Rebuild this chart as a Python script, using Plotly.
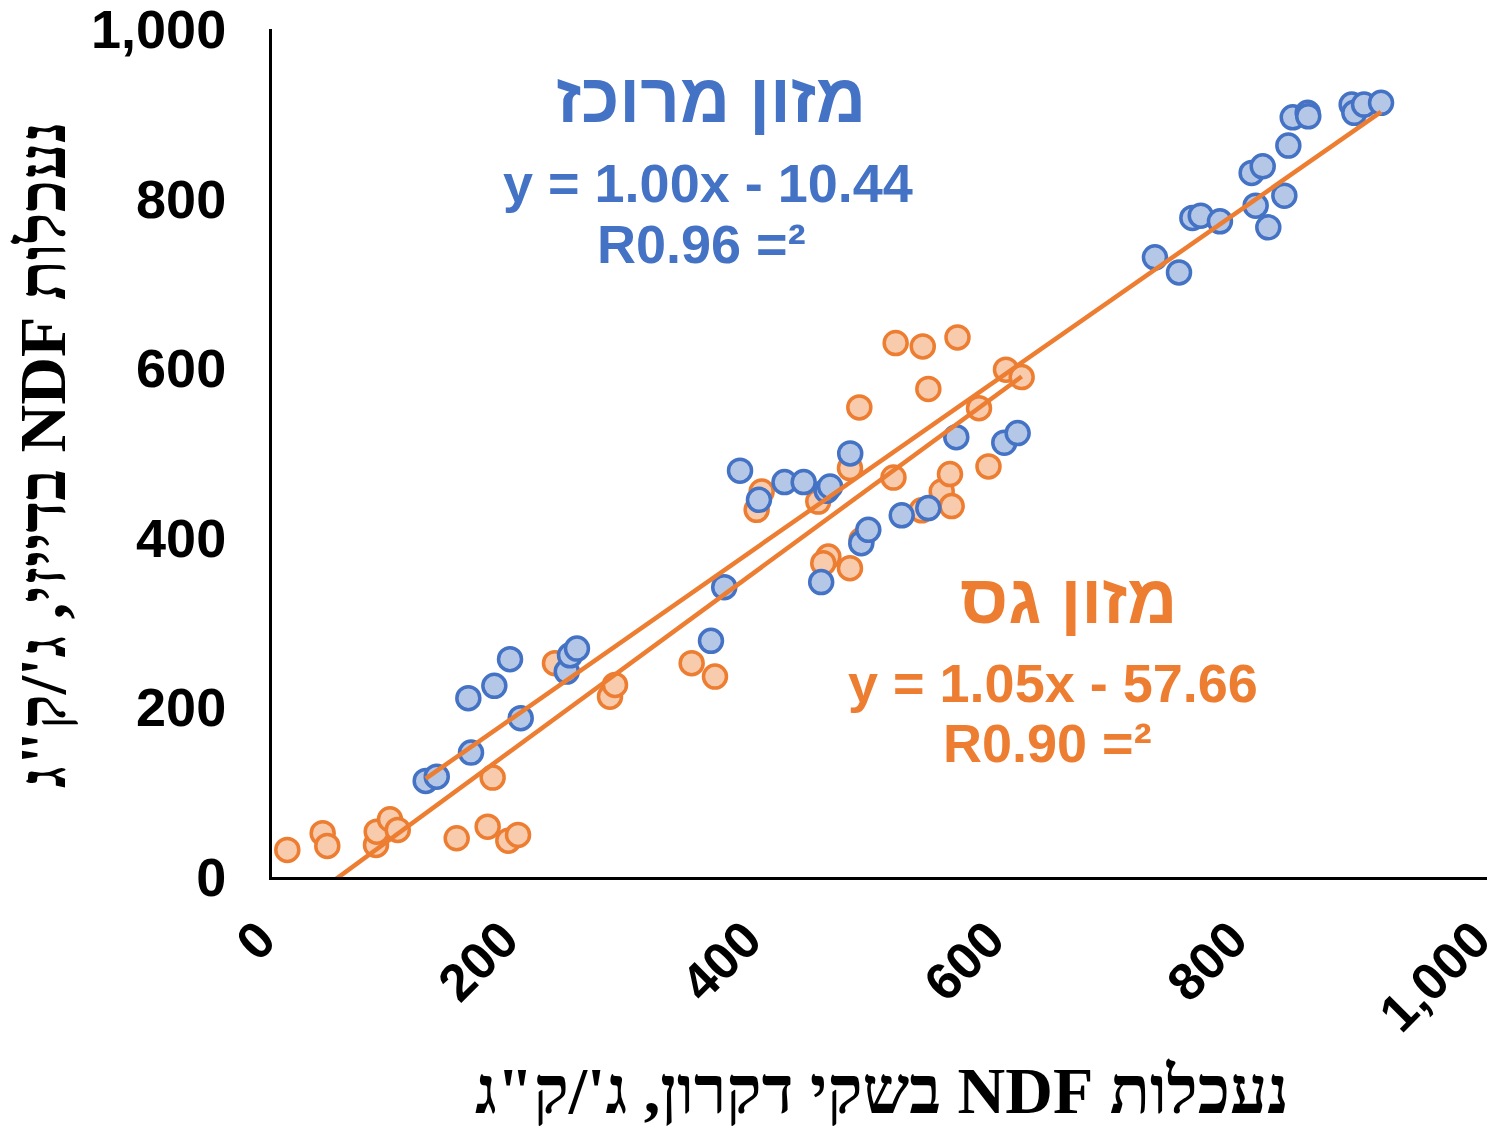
import plotly.graph_objects as go

# NDF digestibility: dacron bag (x) vs. Daisy incubator (y), g/kg
concentrate_x = [126.5, 135.6, 161.6, 163.8, 183.0, 195.9, 204.7, 242.6, 245.3, 251.0,
                 361.3, 372.2, 385.2, 400.8, 421.8, 437.6, 452.0, 456.5, 459.3, 475.9,
                 485.0, 490.8, 518.3, 540.2, 563.2, 602.7, 613.7, 726.7, 746.5, 757.5,
                 764.4, 780.2, 806.3, 809.6, 815.4, 820.0, 833.2, 836.5, 840.1, 852.4,
                 852.9, 888.6, 890.8, 898.8, 912.8]
concentrate_y = [113.3, 118.3, 210.9, 146.7, 225.4, 256.9, 187.3, 242.2, 261.4, 269.4,
                 278.5, 341.8, 479.1, 444.8, 465.7, 465.7, 347.8, 455.5, 460.5, 499.5,
                 393.7, 409.4, 426.5, 435.0, 518.6, 512.1, 523.5, 730.7, 713.0, 777.2,
                 779.9, 773.2, 830.3, 791.7, 838.1, 766.1, 803.5, 862.5, 895.9, 901.1,
                 897.1, 910.9, 901.1, 910.9, 912.9]

roughage_x = [12.6, 41.7, 45.5, 85.6, 86.2, 97.1, 103.5, 152.0, 177.5, 181.6,
              194.5, 202.5, 232.9, 278.2, 282.3, 345.4, 364.6, 398.9, 403.0, 449.6,
              457.9, 453.7, 475.7, 475.7, 483.4, 485.3, 513.3, 511.5, 534.7, 535.6,
              540.2, 551.2, 558.0, 559.4, 564.2, 581.9, 589.7, 604.1, 617.0]
roughage_y = [31.9, 51.6, 36.6, 37.8, 53.5, 68.1, 55.5, 45.7, 59.4, 117.2,
              42.8, 49.6, 252.2, 212.7, 226.5, 252.2, 236.3, 433.0, 454.6, 442.8,
              377.9, 370.1, 364.2, 482.2, 553.8, 397.6, 629.7, 471.1, 432.4, 625.7,
              575.5, 454.6, 475.2, 437.4, 636.3, 552.8, 484.1, 598.2, 589.6]

# linear fits shown on the chart
conc_slope, conc_intercept, conc_r2 = 1.00, -10.44, 0.96
rough_slope, rough_intercept, rough_r2 = 1.05, -57.66, 0.90

concentrate_name = "מזון מרוכז"
roughage_name = "מזון גס"
x_title = "נעכלות NDF בשקי דקרון, ג'/ק\"ג"
y_title = "נעכלות NDF בדייזי, ג'/ק\"ג"
tick_values = [0, 200, 400, 600, 800, 1000]

BLUE = "#4472C4"
BLUE_FILL = "#B4C7E7"
ORANGE = "#ED7D31"
ORANGE_FILL = "#F8CBAD"
SANS = "Liberation Sans, Arial, sans-serif"
SERIF = "Liberation Serif, Times New Roman, serif"

W, H = 1499, 1129
M_L, M_R, M_T, M_B = 272, 12, 29, 252
PLOT_W = W - M_L - M_R
PLOT_H = H - M_T - M_B


def rtl(text):
    # right-to-left embedding so mixed Hebrew/Latin text keeps its order
    return "\u202B" + text + "\u202C"


def paper_xy(px, py):
    return (px - M_L) / PLOT_W, (H - M_B - py) / PLOT_H


def fit_line(xs, slope, intercept):
    x0, x1 = min(xs), max(xs)
    return [x0, x1], [slope * x0 + intercept, slope * x1 + intercept]


fig = go.Figure()

fig.add_trace(go.Scatter(
    x=roughage_x, y=roughage_y, mode="markers", name=roughage_name,
    marker=dict(size=23, color=ORANGE_FILL, line=dict(color=ORANGE, width=3.5)),
    cliponaxis=False,
))
fig.add_trace(go.Scatter(
    x=concentrate_x, y=concentrate_y, mode="markers", name=concentrate_name,
    marker=dict(size=23, color=BLUE_FILL, line=dict(color=BLUE, width=3.5)),
    cliponaxis=False,
))

cx, cy = fit_line(concentrate_x, conc_slope, conc_intercept)
rx, ry = fit_line(roughage_x, rough_slope, rough_intercept)
for lx, ly in ((cx, cy), (rx, ry)):
    fig.add_trace(go.Scatter(x=lx, y=ly, mode="lines",
                             line=dict(color=ORANGE, width=4.5),
                             showlegend=False, hoverinfo="skip"))


def eq_text(slope, intercept):
    sign = "-" if intercept < 0 else "+"
    return f"y = {slope:.2f}x {sign} {abs(intercept):.2f}"


def r2_text(r2):
    return f"R{r2:.2f} =²"


# (text, centre px, centre py, colour, size, family, angle)
annotations = [
    (concentrate_name, 711, 99, BLUE, 69, SANS, 0),
    (eq_text(conc_slope, conc_intercept), 708, 183, BLUE, 54, SANS, 0),
    (r2_text(conc_r2), 701, 244, BLUE, 54, SANS, 0),
    (roughage_name, 1068, 599, ORANGE, 69, SANS, 0),
    (eq_text(rough_slope, rough_intercept), 1053, 683, ORANGE, 54, SANS, 0),
    (r2_text(rough_r2), 1047, 743, ORANGE, 54, SANS, 0),
    (rtl(x_title), 882, 1090, "black", 66, SERIF, 0),
    (rtl(y_title), 42, 455, "black", 66, SERIF, -90),
]
for text, px, py, color, size, family, angle in annotations:
    ax, ay = paper_xy(px, py)
    fig.add_annotation(
        text=f"<b>{text}</b>", x=ax, y=ay,
        xref="paper", yref="paper", showarrow=False,
        xanchor="center", yanchor="middle", textangle=angle,
        font=dict(family=family, size=size, color=color),
    )

axis_common = dict(
    range=[0, 1000], tickvals=tick_values, tickformat=",",
    showgrid=False, zeroline=False, showline=True,
    linecolor="black", linewidth=3, ticks="", automargin=False,
    ticklabeloverflow="allow",
)
tick_font = dict(family=SANS, color="black", weight="bold")

fig.update_layout(
    width=W, height=H,
    margin=dict(l=M_L, r=M_R, t=M_T, b=M_B),
    paper_bgcolor="white", plot_bgcolor="white",
    showlegend=False,
    xaxis=dict(**axis_common, tickangle=-45, ticklabelstandoff=8,
               ticklabelshift=-12, tickfont=dict(**tick_font, size=52)),
    yaxis=dict(**axis_common, ticklabelstandoff=32,
               tickfont=dict(**tick_font, size=54)),
)

fig.write_html("out.html")
